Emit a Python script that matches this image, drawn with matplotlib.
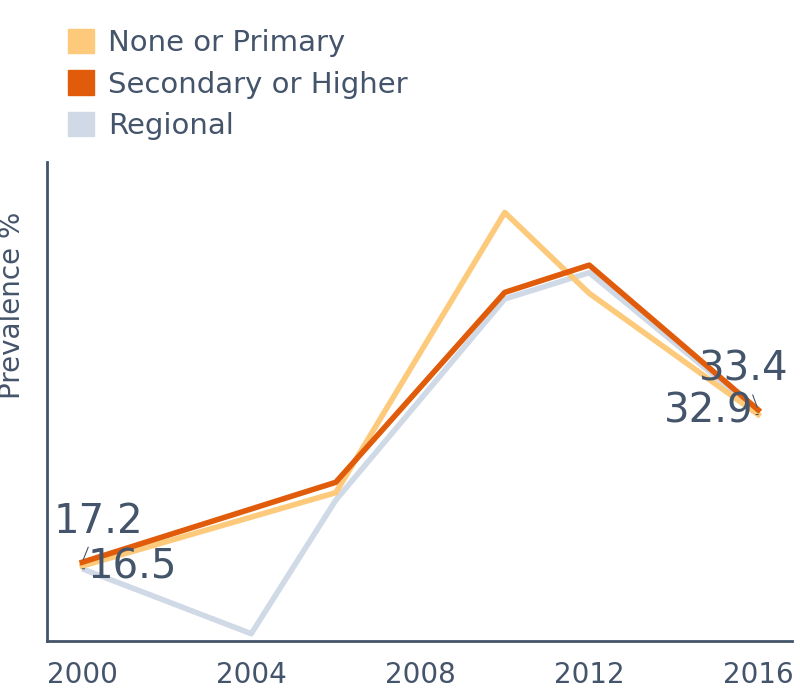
import matplotlib
matplotlib.use("Agg")
import matplotlib.pyplot as plt
from matplotlib.patches import Patch

years_main = [2000, 2006, 2010, 2012, 2016]
none_primary = [16.8, 24.6, 54.4, 45.8, 32.9]
secondary = [17.2, 25.7, 45.9, 48.8, 33.4]
years_reg = [2000, 2004, 2006, 2010, 2012, 2016]
regional = [16.5, 9.6, 23.8, 45.2, 48.0, 33.2]
xticks = [2000, 2004, 2008, 2012, 2016]

C_NONE, C_SEC, C_REG = "#fdc97a", "#e05c0a", "#d0d9e6"
TXT = "#44546a"

fig = plt.figure(figsize=(8, 7), dpi=100)
ax = fig.add_axes([0.059, 0.084, 0.931, 0.685])
ax.plot(years_reg, regional, color=C_REG, lw=4, solid_capstyle="butt")
ax.plot(years_main, none_primary, color=C_NONE, lw=4)
ax.plot(years_main, secondary, color=C_SEC, lw=4)
ax.set_xlim(1999.17, 2016.8)
ax.set_ylim(8.8, 59.8)
ax.set_xticks(xticks)
ax.set_xticklabels([str(x) for x in xticks], fontsize=20, color=TXT)
ax.set_yticks([])
ax.tick_params(axis="x", length=0, pad=14)
for s in ["top", "right"]:
    ax.spines[s].set_visible(False)
for s in ["left", "bottom"]:
    ax.spines[s].set_color(TXT)
    ax.spines[s].set_linewidth(2)
ax.set_ylabel("Prevalence %", fontsize=20, color=TXT)
ax.yaxis.set_label_coords(-0.028, 0.7)

kw = dict(fontsize=29, color=TXT, arrowprops=dict(arrowstyle="-", color=TXT, lw=0.8))
ax.annotate(f"{secondary[0]}", xy=(2000, secondary[0]), xytext=(2000.38, 21.5), ha="center", va="center", **kw)
ax.annotate(f"{regional[0]}", xy=(2000, regional[0]), xytext=(2001.18, 16.6), ha="center", va="center", **kw)
ax.annotate(f"{secondary[-1]}", xy=(2016, secondary[-1]), xytext=(2015.65, 37.7), ha="center", va="center", **kw)
ax.annotate(f"{none_primary[-1]}", xy=(2016, none_primary[-1]), xytext=(2014.82, 33.2), ha="center", va="center", **kw)

handles = [Patch(color=C_NONE, label="None or Primary"),
           Patch(color=C_SEC, label="Secondary or Higher"),
           Patch(color=C_REG, label="Regional")]
fig.legend(handles=handles, loc="upper left", bbox_to_anchor=(0.07, 0.975), frameon=False,
           fontsize=21, labelcolor=TXT, handlelength=0.9, handleheight=0.9, handletextpad=0.5,
           labelspacing=0.45, borderaxespad=0)
fig.savefig("out.png", dpi=100)
